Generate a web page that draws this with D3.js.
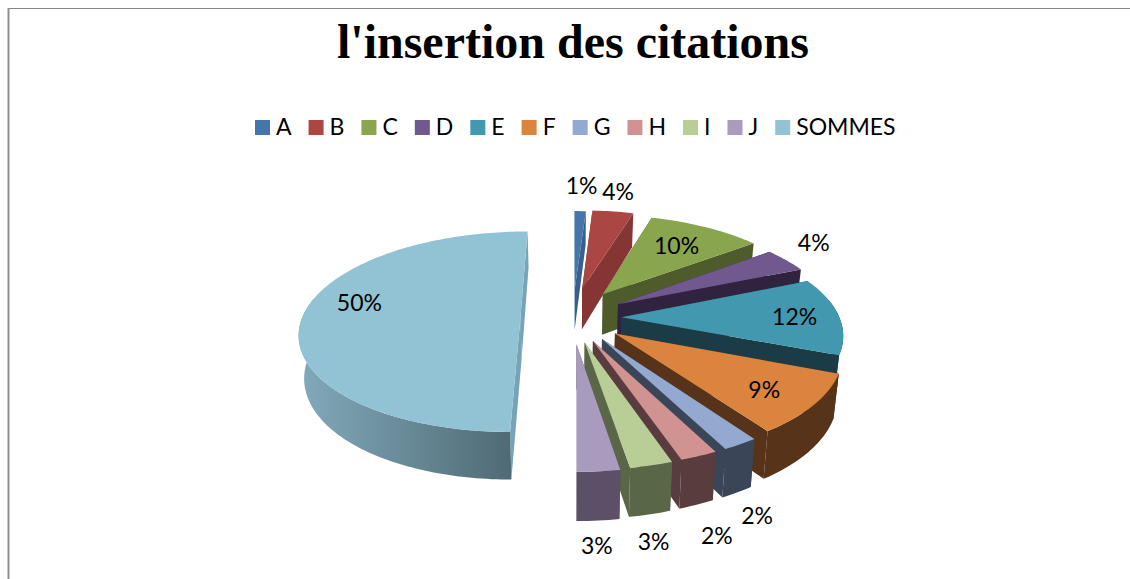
<!DOCTYPE html>
<html>
<head>
<meta charset="utf-8">
<script src="https://d3js.org/d3.v7.min.js"></script>
<style>
  html, body { margin: 0; padding: 0; background: #fff; }
  svg { display: block; }
</style>
</head>
<body>
<svg id="chart" width="1130" height="579"></svg>
<script>
const categories = ["A", "B", "C", "D", "E", "F", "G", "H", "I", "J", "SOMMES"];
const values = [1, 3.6, 10, 4, 12.4, 9.4, 2.2, 2.3, 2.6, 2.6, 50];
const percentLabels = ["1%", "4%", "10%", "4%", "12%", "9%", "2%", "2%", "3%", "3%", "50%"];
const topColors = ["#4675ab", "#aa4643", "#89a54e", "#71588f", "#4198af", "#db843d", "#93a9cf", "#d19392", "#b9cd96", "#a99bbd", "#92c3d5"];
const wallColors = ["#35608f", "#853534", "#4e5c2b", "#30233f", "#1b3c47", "#57331a", "#3b4558", "#593c3e", "#596647", "#5c5068", "#76a3b5"];

const svg = d3.select("#chart");

// frame
svg.append("line").attr("x1", 8).attr("x2", 1130).attr("y1", 8.5).attr("y2", 8.5).attr("stroke", "#868686");
svg.append("line").attr("x1", 8.5).attr("x2", 8.5).attr("y1", 8).attr("y2", 579).attr("stroke", "#8f8f8f").attr("stroke-width", 2);

// title
svg.append("text")
    .attr("x", 573).attr("y", 58)
    .attr("text-anchor", "middle")
    .style("font-family", "'Liberation Serif'")
    .style("font-weight", "bold")
    .style("font-size", "48px")
    .text("l'insertion des citations");

// legend
const legend = svg.append("g");
let legendX = 255;
categories.forEach((c, i) => {
    legend.append("rect")
        .attr("x", legendX).attr("y", 120)
        .attr("width", 15).attr("height", 15)
        .attr("fill", topColors[i]);
    const t = legend.append("text")
        .attr("x", legendX + 21).attr("y", 135)
        .style("font-family", "Lato")
        .style("font-size", "23px")
        .text(c);
    legendX += 21 + t.node().getComputedTextLength() + 17;
});

// fake 3d projection of the pie
const cx = 573, cy = 312.7;
const rx = 218, ry = 98;
const persp = 0.15;
const explodeX = 0.25, explodeY = 0.3;
// small per slice correction, the original is not quite a regular explosion
const sliceShift = [[0, 5], [0, 4], [0, 5], [-1, 6], [-6, 5], [-2, 2], [0, 0], [-2, 0], [-2, 0], [-1, 1], [2, 4]];

function project(X, Y, low) {
    const s = 1 / (1 + persp * Y);
    const shrink = low ? 0.98 : 1;
    return [
        cx + X * rx * s * shrink,
        cy - Y * ry * s * shrink + (low ? 42 - 8 * Y : 0)
    ];
}

const pie = d3.pie().sort(null).value(d => d);
const arcs = pie(values).map((d, i) => ({...d, i}));

const defs = svg.append("defs");
const gradS = defs.append("linearGradient").attr("id", "sommesWall");
gradS.append("stop").attr("offset", "0%").attr("stop-color", "#82aabb");
gradS.append("stop").attr("offset", "100%").attr("stop-color", "#4f6a74");

const line = d3.line();
// far slices first
const order = arcs.slice().sort((a, b) =>
    Math.cos((b.startAngle + b.endAngle) / 2) - Math.cos((a.startAngle + a.endAngle) / 2));

const slices = svg.append("g");
order.forEach(d => {
    const mid = (d.startAngle + d.endAngle) / 2;
    const ox = explodeX * Math.sin(mid), oy = explodeY * Math.cos(mid);
    const angles = d3.range(d.startAngle, d.endAngle, 0.02).concat(d.endAngle);
    const rimTop = angles.map(a => project(ox + Math.sin(a), oy + Math.cos(a), false));
    const apexTop = project(ox, oy, false);
    const apexLow = project(ox, oy, true);
    const edgeLow = a => project(ox + Math.sin(a), oy + Math.cos(a), true);
    const edgeTop = a => project(ox + Math.sin(a), oy + Math.cos(a), false);
    const g = slices.append("g")
        .attr("transform", `translate(${sliceShift[d.i][0]},${sliceShift[d.i][1]})`);

    const walls = [
        {depth: oy + Math.cos(d.startAngle) / 2, a: d.startAngle},
        {depth: oy + Math.cos(d.endAngle) / 2, a: d.endAngle}
    ].sort((p, q) => q.depth - p.depth);

    walls.forEach(w => g.append("path")
        .attr("d", line([apexTop, edgeTop(w.a), edgeLow(w.a), apexLow]) + "Z")
        .attr("fill", wallColors[d.i]));

    // outer wall, only the part turned to the viewer
    const front = angles.filter(a => Math.cos(a) < 0.2);
    if (front.length > 1) {
        g.append("path")
            .attr("d", line(front.map(edgeTop).concat(front.map(edgeLow).reverse())) + "Z")
            .attr("fill", d.i === 10 ? "url(#sommesWall)" : wallColors[d.i]);
    }
    g.append("path")
        .attr("d", line([apexTop].concat(rimTop)) + "Z")
        .attr("fill", topColors[d.i]);
});

// data labels
const labelRadius = [1.33, 1.27, 0.63, 1.25, 0.76, 0.83, 1.6, 1.6, 1.52, 1.5, 0.73];
const labelNudge = [[0, 2], [-2, 2], [6, 1], [-12, -1], [2, 6], [-15, 0], [-89, -9], [-67, -10], [-45, -6], [-17, -7], [0, -10]];
arcs.forEach(d => {
    const mid = (d.startAngle + d.endAngle) / 2;
    const p = project((labelRadius[d.i] + explodeX) * Math.sin(mid), (labelRadius[d.i] + explodeY) * Math.cos(mid), false);
    svg.append("text")
        .attr("x", p[0] + labelNudge[d.i][0])
        .attr("y", p[1] + labelNudge[d.i][1])
        .attr("dy", "0.35em")
        .attr("text-anchor", "middle")
        .style("font-family", "Lato")
        .style("font-size", "23px")
        .text(percentLabels[d.i]);
});
</script>
</body>
</html>
